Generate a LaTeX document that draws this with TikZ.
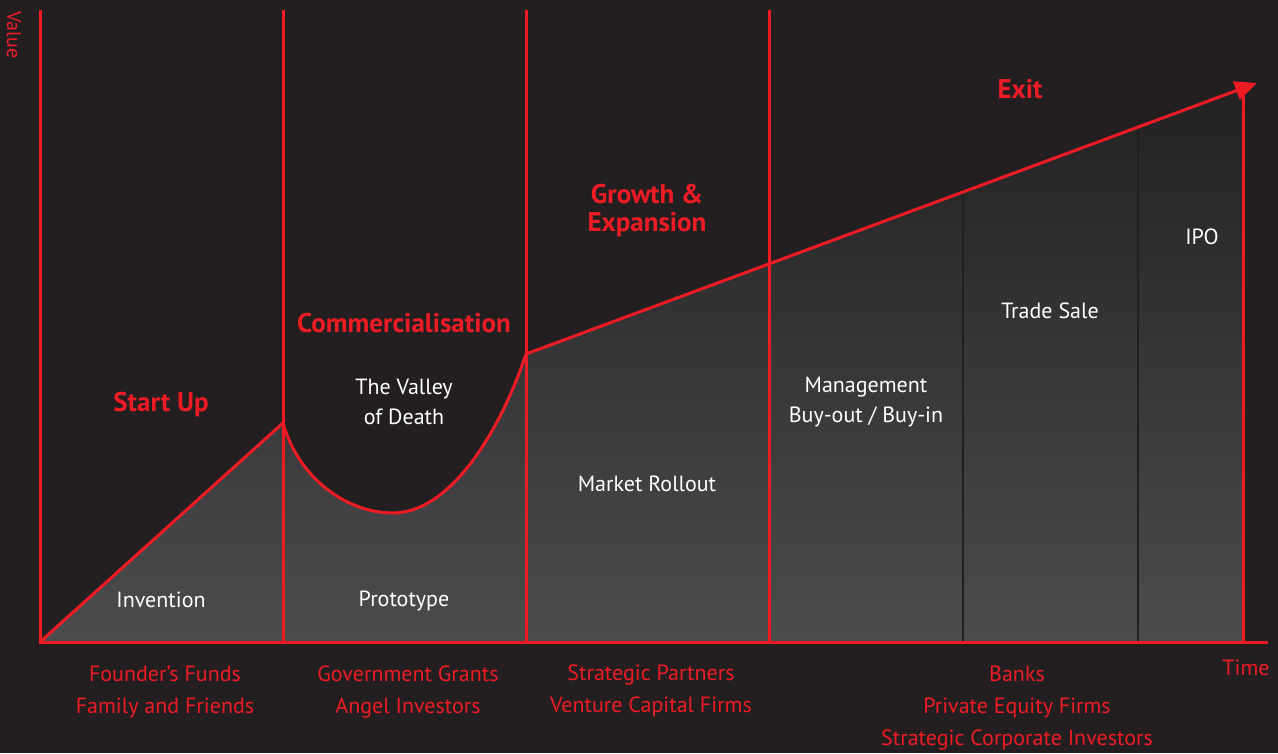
\documentclass[tikz,border=0pt]{standalone}
\usepackage{fontspec}
\setmainfont{PT Sans}
\usetikzlibrary{arrows.meta}
\definecolor{bg}{HTML}{231F20}
\definecolor{rd}{HTML}{ED1C24}
\definecolor{gtop}{HTML}{232122}
\definecolor{gbot}{HTML}{4B4C4E}
\tikzset{
  redline/.style={draw=rd, line width=3pt},
  sep/.style={draw=bg, line width=2pt},
  wlabel/.style={text=white, font=\fontsize{22}{30}\selectfont, align=center},
  rlabel/.style={text=rd, font=\fontsize{22}{32}\selectfont, align=center},
  title/.style={text=rd, font=\fontsize{27}{28}\selectfont\bfseries, align=center},
}
\begin{document}
\begin{tikzpicture}[x=1pt,y=-1pt]
\fill[bg] (0,0) rectangle (1278,753);
\useasboundingbox (0,0) rectangle (1278,753);
% key points
\coordinate (O) at (40,642);
\coordinate (T) at (40,10);
\coordinate (P1) at (283,423);
\coordinate (V) at (393,513);
\coordinate (P2) at (526,354);
\coordinate (Tip) at (1257,83);
\coordinate (E) at (1268,642);
% shaded area
\shade[top color=gtop, bottom color=gbot]
  (O) -- (P1) .. controls (300,482) and (350,513) .. (V)
  .. controls (450,513) and (500,432) .. (P2) -- (1243,87.5) -- (1243,642) -- cycle;
% separators
\coordinate (S1t) at (963,191.5);
\coordinate (S1b) at (963,642);
\coordinate (S2t) at (1138,126.3);
\coordinate (S2b) at (1138,642);
\draw[sep] (S1t) -- (S1b);
\draw[sep] (S2t) -- (S2b);
% vertical stage lines
\coordinate (L1t) at (283,10); \coordinate (L1b) at (283,642);
\coordinate (L2t) at (526,10); \coordinate (L2b) at (526,642);
\coordinate (L3t) at (769,10); \coordinate (L3b) at (769,642);
\coordinate (L4t) at (1243,88); \coordinate (L4b) at (1243,642);
\draw[redline] (L1t) -- (L1b);
\draw[redline] (L2t) -- (L2b);
\draw[redline] (L3t) -- (L3b);
\draw[redline] (L4t) -- (L4b);
% curve
\draw[redline, line join=round] (O) -- (P1) .. controls (300,482) and (350,513) .. (V)
  .. controls (450,513) and (500,432) .. (P2);
\draw[redline, -{Triangle[length=22pt,width=19pt]}] (P2) -- (Tip);
% axes
\draw[redline] (T) -- (O) -- (E);
% axis labels
\node[text=rd, font=\fontsize{20}{22}\selectfont, rotate=-90] (val) at (14,35) {Value};
\node[text=rd, font=\fontsize{22}{24}\selectfont] (time) at (1246,668) {Time};
% titles
\node[title] (su) at (161,405) {Start Up};
\node[title] (com) at (404,323) {Commercialisation};
\node[title] (gro) at (647,211) {Growth \&\\Expansion};
\node[title] (exit) at (1020,89) {Exit};
% white labels
\node[wlabel] (inv) at (161,600) {Invention};
\node[wlabel] (vod) at (404,402) {The Valley\\of Death};
\node[wlabel] (pro) at (404,601) {Prototype};
\node[wlabel] (mr) at (647,484) {Market Rollout};
\node[wlabel] (mb) at (866,402) {Management\\Buy-out / Buy-in};
\node[wlabel] (ts) at (1050,311) {Trade Sale};
\node[wlabel] (ipo) at (1202,237) {IPO};
% funding labels
\node[rlabel] (f1) at (165,692) {Founder’s Funds\\Family and Friends};
\node[rlabel] (f2) at (408,692) {Government Grants\\Angel Investors};
\node[rlabel] (f3) at (651,691) {Strategic Partners\\Venture Capital Firms};
\node[rlabel] (f4) at (1017,708) {Banks\\Private Equity Firms\\Strategic Corporate Investors};
\end{tikzpicture}
\end{document}
